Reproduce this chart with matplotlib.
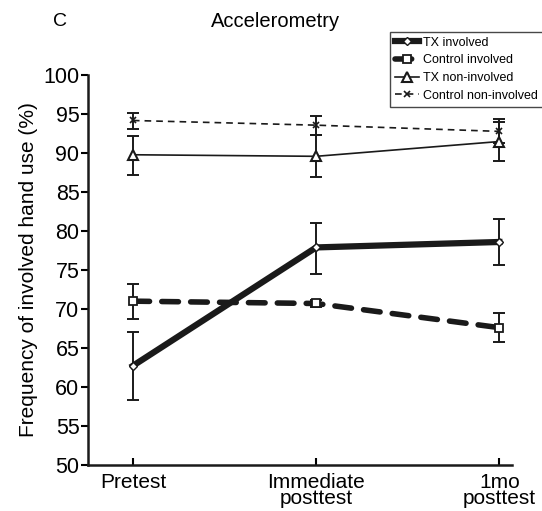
import matplotlib
matplotlib.use("Agg")
import matplotlib.pyplot as plt
import numpy as np

plt.rcParams['font.family'] = ['Liberation Sans', 'DejaVu Sans']

# data
timepoints = ['Pretest', 'Immediate\nposttest', '1mo\nposttest']

tx_inv = [62.7, 77.9, 78.6]
tx_inv_lo = [58.3, 74.5, 75.6]
tx_inv_hi = [67.0, 81.0, 81.6]

ctl_inv = [71.0, 70.7, 67.6]
ctl_inv_lo = [68.7, 70.2, 65.8]
ctl_inv_hi = [73.2, 71.2, 69.5]

tx_non = [89.8, 89.6, 91.5]
tx_non_lo = [87.2, 86.9, 89.0]
tx_non_hi = [92.2, 92.3, 94.0]

ctl_non = [94.2, 93.6, 92.8]
ctl_non_lo = [93.1, 92.4, 91.3]
ctl_non_hi = [95.2, 94.8, 94.4]

x = np.arange(len(timepoints))

fig = plt.figure(figsize=(5.42, 5.11), dpi=100)
ax = fig.add_axes([0.162, 0.0906, 0.783, 0.762])


def err(vals, lo, hi):
    v = np.array(vals)
    return [v - np.array(lo), np.array(hi) - v]


# error bars first
for vals, lo, hi in [(tx_inv, tx_inv_lo, tx_inv_hi), (ctl_inv, ctl_inv_lo, ctl_inv_hi),
                     (tx_non, tx_non_lo, tx_non_hi), (ctl_non, ctl_non_lo, ctl_non_hi)]:
    ax.errorbar(x, vals, yerr=err(vals, lo, hi), fmt='none', ecolor='#1a1a1a',
                elinewidth=1.4, capsize=4.5, capthick=1.4, zorder=2)

ax.plot(x, tx_inv, color='#1a1a1a', lw=4.5, marker='D', ms=4.5, mfc='white',
        mec='#1a1a1a', mew=1.0, label='TX involved', zorder=4)
ax.plot(x, ctl_inv, color='#1a1a1a', lw=4, ls=(0, (3, 2.2)), dash_capstyle='round',
        marker='s', ms=6, mfc='white', mec='#1a1a1a', mew=1.3,
        label='Control involved', zorder=3)
ax.plot(x, tx_non, color='#1a1a1a', lw=1.2, marker='^', ms=6.5, mfc='white',
        mec='#1a1a1a', mew=1.5, label='TX non-involved', zorder=3)
ax.plot(x, ctl_non, color='#1a1a1a', lw=1.2, ls=(0, (4, 3)), marker='x', ms=5,
        mec='#1a1a1a', mew=1.2, label='Control non-involved', zorder=3)

ax.set_xlim(-0.246, 2.07)
ax.set_ylim(50, 100)
ax.set_yticks(np.arange(50, 101, 5))
ax.set_xticks(x)
ax.set_xticklabels(timepoints, fontsize=15, linespacing=0.82)
ax.tick_params(axis='y', labelsize=15.5, direction='out', length=5, width=1.5, pad=1)
ax.tick_params(axis='x', direction='in', length=5, width=1.5, pad=6)
for s in ['top', 'right']:
    ax.spines[s].set_visible(False)
for s in ['left', 'bottom']:
    ax.spines[s].set_linewidth(1.8)
    ax.spines[s].set_color('#1a1a1a')

ax.set_ylabel('Frequency of involved hand use (%)', fontsize=15, labelpad=4)

fig.text(0.097, 0.958, 'C', fontsize=14, ha='left', va='center')
fig.text(0.508, 0.958, 'Accelerometry', fontsize=14.5, ha='center', va='center')

leg = fig.legend(loc='upper left', bbox_to_anchor=(0.72, 0.938), fontsize=9.0,
                 frameon=True, fancybox=False, edgecolor='#1a1a1a',
                 handlelength=1.9, handletextpad=0.3, borderpad=0.4,
                 labelspacing=0.45, borderaxespad=0)
leg.get_frame().set_linewidth(1.0)

fig.savefig('out.png', dpi=100)
